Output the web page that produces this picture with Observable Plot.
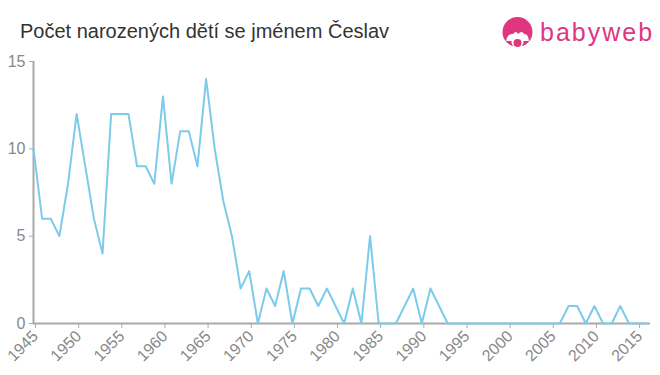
<!DOCTYPE html>
<html><head><meta charset="utf-8">
<script src="https://cdn.jsdelivr.net/npm/d3@7"></script>
<script src="https://cdn.jsdelivr.net/npm/@observablehq/plot@0.6"></script>
<style>
body{margin:0;background:#fff;font-family:"Liberation Sans",Arial,sans-serif;}
#wrap{position:relative;width:660px;height:375px;}
#title{position:absolute;left:20px;top:20px;font-size:20px;color:#333;}
#logo{position:absolute;left:502px;top:17px;display:flex;align-items:center;}
#logo .ic{width:31px;height:32px;position:relative;}
#logo .tx{font-size:25px;color:#e0357f;margin-left:7px;letter-spacing:2px;margin-top:-2px;}
#chart{position:absolute;left:0;top:0;}
</style></head><body>
<div id="wrap"><div id="chart"></div><div id="title">Počet narozených dětí se jménem Česlav</div>
<div id="logo"><div class="ic"><svg width="31" height="32"><circle cx="15.5" cy="15" r="15" fill="#e0357f"/><path d="M4 24 Q6 16 11 17 Q14 13 16 17 Q20 13 22 17 Q26 16 27 24 Z" fill="#fff"/><circle cx="15.5" cy="25" r="6" fill="#fff"/><circle cx="15.5" cy="26" r="4" fill="#e0357f"/></svg></div><div class="tx">babyweb</div></div>
</div>
<script>
const years = d3.range(1945, 2017);
const counts = [10,6,6,5,8,12,9,6,4,12,12,12,9,9,8,13,8,11,11,9,14,10,7,5,2,3,0,2,1,3,0,2,2,1,2,1,0,2,0,5,0,0,0,1,2,0,2,1,0,0,0,0,0,0,0,0,0,0,0,0,0,0,1,1,0,1,0,0,1,0,0,0];
const xTicks = d3.range(1945, 2016, 5);
const yTicks = [0,5,10,15];
const data = years.map((y,i)=>({year:y,count:counts[i]}));
const chart = Plot.plot({
  width:660,height:375,marginTop:61,marginBottom:52,marginLeft:33,marginRight:10,
  style:{fontFamily:"Liberation Sans, Arial, sans-serif",color:"#888",background:"transparent"},
  x:{domain:[1945,2016.5],label:null},
  y:{domain:[0,15],label:null},
  marks:[
    Plot.axisX({ticks:xTicks,tickFormat:d=>String(d),tickRotate:-45,fontSize:16,stroke:"#aaa",fill:"#888",tickSize:5,tickPadding:5,dx:2,label:null}),
    Plot.axisY({ticks:yTicks,fontSize:16,stroke:"#aaa",fill:"#888",tickSize:4,tickPadding:4,label:null}),
    Plot.ruleY([0],{stroke:"#aaa",strokeWidth:2}),
    Plot.ruleX([1945],{y1:0,y2:15,stroke:"#aaa",strokeWidth:2}),
    Plot.line(data,{x:"year",y:"count",stroke:"#7ccbeb",strokeWidth:2})
  ]
});
document.getElementById("chart").appendChild(chart);
</script></body></html>
